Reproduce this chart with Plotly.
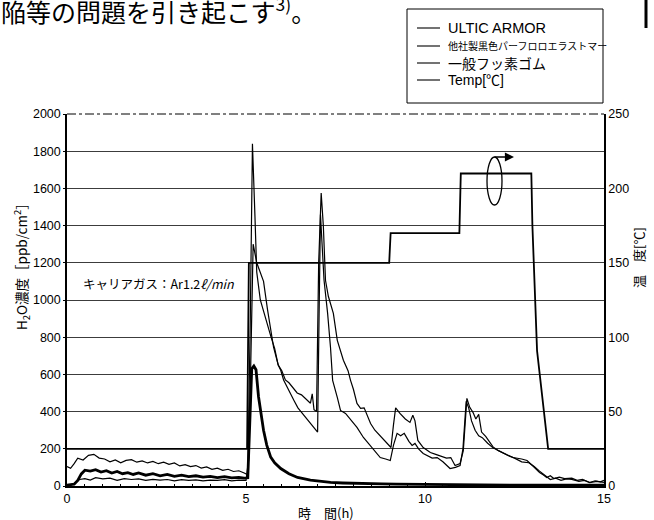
import plotly.graph_objects as go

# ---------------- data ----------------
hours_ultic = [0, 0.1, 0.2, 0.3, 0.4, 0.5, 0.65, 0.8, 0.95, 1.1, 1.25, 1.4, 1.55, 1.7, 1.85, 2.0,
               2.2, 2.4, 2.6, 2.8, 3.0, 3.2, 3.4, 3.6, 3.8, 4.0, 4.2, 4.4, 4.6, 4.8, 4.95, 5.05,
               5.1, 5.16, 5.22, 5.28, 5.35, 5.41, 5.49, 5.58, 5.69, 5.8, 5.97, 6.2, 6.44, 6.8,
               7.1, 7.36, 7.7, 8.0, 8.4, 8.8, 9.2, 9.6, 10.0, 10.5, 11.0, 11.5, 12.0, 12.5, 13.0,
               13.5, 14.0, 14.5, 15.0]
h2o_ultic = [5, 6, 10, 30, 65, 85, 80, 88, 75, 82, 70, 78, 66, 72, 62, 70,
             58, 66, 55, 62, 52, 58, 50, 55, 48, 52, 45, 50, 44, 46, 42, 44,
             300, 630, 645, 625, 480, 405, 300, 220, 155, 125, 94, 66, 46, 32,
             24, 19, 16, 14, 12, 11, 10, 9, 8, 7, 6, 6, 5, 5, 4,
             4, 4, 4, 4]

hours_fkm = [0, 0.1, 0.2, 0.3, 0.45, 0.6, 0.75, 0.9, 1.05, 1.2,
             1.35, 1.5, 1.65, 1.8, 1.95, 2.1, 2.25, 2.4, 2.55, 2.7,
             2.85, 3.0, 3.15, 3.3, 3.45, 3.6, 3.75, 3.9, 4.05, 4.2,
             4.35, 4.5, 4.65, 4.8, 4.95, 5.05, 5.12, 5.18, 5.25, 5.3,
             5.4, 5.5, 5.6, 5.7, 5.8, 5.9, 6.0, 6.1, 6.2, 6.3,
             6.43, 6.55, 6.7, 6.8, 6.85, 6.9, 6.97, 7.03, 7.1, 7.16,
             7.22, 7.3, 7.44, 7.55, 7.72, 7.85, 7.92, 8.0, 8.1, 8.2,
             8.3, 8.48, 8.6, 8.8, 8.95, 9.05, 9.12, 9.18, 9.3, 9.45,
             9.58, 9.66, 9.72, 9.8, 9.95, 10.15, 10.3, 10.45, 10.6, 10.72,
             10.84, 10.98, 11.07, 11.17, 11.25, 11.34, 11.42, 11.5, 11.58, 11.7,
             11.9, 12.05, 12.25, 12.46, 12.7, 12.85, 13.0, 13.1, 13.2, 13.3,
             13.4, 13.5, 13.6, 13.75, 13.9, 14.1, 14.25, 14.4, 14.6, 14.75,
             14.9, 15.0]
h2o_fkm = [105, 95, 120, 150, 140, 165, 170, 150, 145, 130,
           140, 125, 138, 142, 128, 135, 124, 132, 120, 128,
           116, 124, 108, 115, 104, 110, 96, 103, 90, 96,
           84, 90, 78, 82, 70, 60, 900, 1840, 1450, 1150,
           1000, 930, 870, 800, 740, 650, 620, 570, 555, 530,
           500, 490, 460, 445, 495, 410, 400, 1200, 1575, 1400,
           1106, 1020, 928, 783, 676, 620, 568, 520, 444, 417,
           420, 336, 300, 260, 229, 207, 330, 420, 390, 360,
           342, 380, 350, 245, 207, 180, 170, 160, 150, 153,
           110, 121, 190, 471, 423, 396, 360, 385, 290, 265,
           210, 190, 170, 153, 145, 137, 110, 90, 73, 60,
           46, 55, 40, 48, 40, 42, 30, 36, 19, 28,
           22, 30]

hours_ffkm = [0, 0.1, 0.2, 0.35, 0.5, 0.65, 0.8, 1.0, 1.2, 1.4,
              1.6, 1.8, 2.0, 2.2, 2.4, 2.6, 2.8, 3.0, 3.2, 3.4,
              3.6, 3.8, 4.0, 4.2, 4.4, 4.6, 4.8, 5.0, 5.08, 5.14,
              5.2, 5.3, 5.4, 5.49, 5.6, 5.69, 5.77, 5.9, 5.97, 6.05,
              6.2, 6.34, 6.45, 6.58, 6.7, 6.8, 6.9, 7.0, 7.04, 7.08,
              7.18, 7.28, 7.36, 7.42, 7.55, 7.64, 7.78, 7.95, 8.1, 8.28,
              8.45, 8.6, 8.75, 8.9, 9.03, 9.12, 9.22, 9.32, 9.42, 9.55,
              9.64, 9.72, 9.82, 9.95, 10.1, 10.2, 10.34, 10.5, 10.7, 10.85,
              10.98, 11.06, 11.15, 11.22, 11.3, 11.4, 11.5, 11.6, 11.75, 11.9,
              12.1, 12.3, 12.5, 12.7, 12.9, 13.05, 13.2, 13.35, 13.5, 13.65,
              13.8, 13.95, 14.1, 14.3, 14.45, 14.6, 14.8, 15.0]
h2o_ffkm = [2, 5, 15, 35, 40, 32, 45, 38, 42, 30,
            40, 35, 38, 30, 36, 32, 35, 28, 34, 30,
            33, 28, 32, 30, 34, 28, 32, 30, 150, 700,
            1300, 1200, 1150, 1100, 950, 836, 746, 650, 622, 570,
            510, 460, 420, 390, 360, 336, 310, 290, 900, 1460,
            1106, 928, 746, 568, 476, 406, 390, 350, 315, 261,
            220, 185, 153, 145, 137, 220, 283, 270, 283, 240,
            218, 229, 200, 175, 160, 150, 153, 130, 94, 100,
            110, 200, 455, 420, 350, 300, 270, 260, 230, 205,
            185, 165, 150, 130, 125, 105, 80, 55, 35, 42,
            30, 38, 36, 25, 30, 18, 25, 20]

hours_temp = [0, 5.03, 5.08, 9.0, 9.04, 10.96, 11.0, 12.97, 13.0, 13.07, 13.13, 13.44, 15]
temp_c = [25, 25, 150, 150, 170, 170, 210, 210, 175, 130, 91, 25, 25]

series_names = ["ULTIC ARMOR", "他社製黒色パーフロロエラストマー", "一般フッ素ゴム", "Temp[℃]"]
left_ticks = [0, 200, 400, 600, 800, 1000, 1200, 1400, 1600, 1800, 2000]
right_ticks = [0, 50, 100, 150, 200, 250]
x_ticks = [0, 5, 10, 15]

for a, b in [(hours_ultic, h2o_ultic), (hours_fkm, h2o_fkm), (hours_ffkm, h2o_ffkm), (hours_temp, temp_c)]:
    assert len(a) == len(b), (len(a), len(b))

# ---------------- layout helpers ----------------
W, H = 654, 520
L, R, T, B = 67, 604, 114, 486
def px(x):
    return (x - L) / (R - L)
def py(y):
    return (B - y) / (B - T)

FONT = "Liberation Sans, Arial, Noto Sans CJK JP, sans-serif"
JFONT = "Noto Sans CJK JP, Liberation Sans, sans-serif"

fig = go.Figure()
fig.add_trace(go.Scatter(x=hours_temp, y=temp_c, yaxis="y2", mode="lines", name=series_names[3],
                         line=dict(color="black", width=1.8), showlegend=False))
fig.add_trace(go.Scatter(x=hours_fkm, y=h2o_fkm, mode="lines", name=series_names[2],
                         line=dict(color="black", width=1.2), showlegend=False))
fig.add_trace(go.Scatter(x=hours_ffkm, y=h2o_ffkm, mode="lines", name=series_names[1],
                         line=dict(color="black", width=1.2), showlegend=False))
fig.add_trace(go.Scatter(x=hours_ultic, y=h2o_ultic, mode="lines", name=series_names[0],
                         line=dict(color="black", width=2.8), showlegend=False))

shapes = []
# top border (dash-dot) over the 2000 grid line
shapes.append(dict(type="line", xref="paper", yref="paper", x0=0, x1=1, y0=1, y1=1,
                   line=dict(color="white", width=2.5), layer="above"))
shapes.append(dict(type="line", xref="paper", yref="paper", x0=0, x1=1, y0=1, y1=1,
                   line=dict(color="black", width=1, dash="dashdot"), layer="above"))
# legend box
shapes.append(dict(type="rect", xref="paper", yref="paper", x0=px(407), x1=px(603), y0=py(103), y1=py(9),
                   line=dict(color="black", width=1), fillcolor="white", layer="above"))
legend_rows = [28, 46, 63, 80]
legend_sizes = [14.5, 10, 14, 14]
legend_fonts = [FONT, JFONT, JFONT, FONT]
for yy in legend_rows:
    shapes.append(dict(type="line", xref="paper", yref="paper", x0=px(417), x1=px(440), y0=py(yy), y1=py(yy),
                       line=dict(color="black", width=1.1), layer="above"))
# rotation ellipse
shapes.append(dict(type="circle", xref="paper", yref="paper", x0=px(487), x1=px(502), y0=py(205), y1=py(157),
                   line=dict(color="black", width=1.3), layer="above"))
# partial frame at the top right edge of the page
shapes.append(dict(type="line", xref="paper", yref="paper", x0=px(646), x1=px(646), y0=py(0), y1=py(28),
                   line=dict(color="black", width=3), layer="above"))

annotations = []
for name, yy, sz, fnt in zip(series_names, legend_rows, legend_sizes, legend_fonts):
    annotations.append(dict(text=name, xref="paper", yref="paper", x=px(446), y=py(yy), xanchor="left",
                            yanchor="middle", showarrow=False, font=dict(family=fnt, size=sz, color="black")))
annotations += [
    dict(text="陥等の問題を引き起こす<sup>3)</sup>。", xref="paper", yref="paper", x=px(-1), y=py(10),
         xanchor="left", yanchor="middle", showarrow=False,
         font=dict(family=JFONT, size=25, color="black")),
    dict(text="キャリアガス：Ar1.2<i>ℓ/min</i>", xref="paper", yref="paper", x=px(81), y=py(283),
         xanchor="left", yanchor="middle", showarrow=False,
         font=dict(family=JFONT, size=12.5, color="black")),
    dict(text="H<sub>2</sub>O濃度［ppb/cm<sup>2</sup>］", xref="paper", yref="paper", x=px(21), y=py(263),
         xanchor="center", yanchor="middle", textangle=-90, showarrow=False,
         font=dict(family=JFONT, size=13.5, color="black")),
    dict(text="温　度[℃]", xref="paper", yref="paper", x=px(638), y=py(258),
         xanchor="center", yanchor="middle", textangle=-90, showarrow=False,
         font=dict(family=JFONT, size=13, color="black")),
    dict(text="時　間(h)", xref="paper", yref="paper", x=px(326), y=py(512),
         xanchor="center", yanchor="middle", showarrow=False,
         font=dict(family=JFONT, size=13, color="black")),
    dict(text="", xref="paper", yref="paper", x=px(514), y=py(157), ax=-21, ay=0,
         showarrow=True, arrowhead=2, arrowsize=1.3, arrowwidth=1.4, arrowcolor="black"),
]

fig.update_layout(
    width=W, height=H,
    margin=dict(l=L, r=W - R, t=T, b=H - B, pad=0),
    paper_bgcolor="white", plot_bgcolor="white",
    font=dict(family=FONT, size=13, color="black"),
    showlegend=False,
    xaxis=dict(range=[0, 15], tickvals=x_ticks, showgrid=False, zeroline=False,
               showline=True, linecolor="black", linewidth=1.5,
               ticks="inside", ticklen=4, tickcolor="black",
               minor=dict(dtick=0.5, ticks="inside", ticklen=2, tickcolor="black"),
               tickfont=dict(size=12.5)),
    yaxis=dict(range=[0, 2000], tickvals=left_ticks, showgrid=True, gridcolor="#3c3c3c", gridwidth=1,
               zeroline=False, showline=True, linecolor="black", linewidth=1.5,
               ticks="outside", ticklen=2, tickcolor="black", tickfont=dict(size=12.5)),
    yaxis2=dict(range=[0, 250], tickvals=right_ticks, overlaying="y", side="right", showgrid=False,
                zeroline=False, showline=True, linecolor="black", linewidth=1.5,
                ticks="", tickfont=dict(size=12.5)),
    shapes=shapes,
    annotations=annotations,
)

fig.write_html("out.html")
